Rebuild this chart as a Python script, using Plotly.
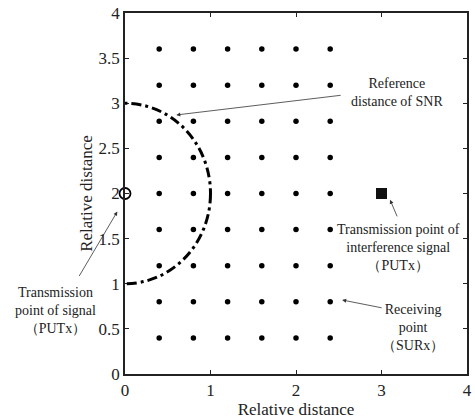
import plotly.graph_objects as go

# Data
grid_x = [0.4, 0.8, 1.2, 1.6, 2.0, 2.4]
grid_y = [0.4, 0.8, 1.2, 1.6, 2.0, 2.4, 2.8, 3.2, 3.6]
signal_tx = [0.0, 2.0]
interf_tx = [3.0, 2.0]
circle_center = [0.0, 2.0]
circle_radius = 1.0
x_ticks = [0, 1, 2, 3, 4]
y_ticks = [0, 0.5, 1, 1.5, 2, 2.5, 3, 3.5, 4]
y_tick_text = ["0", "0.5", "1", "1.5", "2", "2.5", "3", "3.5", "4"]
X_RANGE = [0, 4]
Y_RANGE = [0, 4]

rx = [x for y in grid_y for x in grid_x]
ry = [y for y in grid_y for x in grid_x]

FONT = "Liberation Serif"
fig = go.Figure()

fig.add_shape(type="circle", xref="x", yref="y",
              x0=circle_center[0] - circle_radius, x1=circle_center[0] + circle_radius,
              y0=circle_center[1] - circle_radius, y1=circle_center[1] + circle_radius,
              line=dict(color="black", width=3, dash="10px,4px,3px,4px"))

fig.add_trace(go.Scatter(x=rx, y=ry, mode="markers",
                         marker=dict(color="black", size=5.5), showlegend=False))
fig.add_trace(go.Scatter(x=[signal_tx[0]], y=[signal_tx[1]], mode="markers", cliponaxis=False,
                         marker=dict(symbol="circle-open", color="black", size=11,
                                     line=dict(width=1.8, color="black")), showlegend=False))
fig.add_trace(go.Scatter(x=[interf_tx[0]], y=[interf_tx[1]], mode="markers",
                         marker=dict(symbol="square", color="#111", size=11), showlegend=False))

tfont = dict(family=FONT, size=14, color="#222")

def px(x):
    return (x - X_RANGE[0]) / (X_RANGE[1] - X_RANGE[0])

def py(y):
    return (y - Y_RANGE[0]) / (Y_RANGE[1] - Y_RANGE[0])

def arrow(hx, hy, tx, ty):
    fig.add_annotation(x=hx, y=hy, ax=tx, ay=ty, xref="x", yref="y", axref="x", ayref="y",
                       text="", showarrow=True, arrowhead=2, arrowsize=1,
                       arrowwidth=0.8, arrowcolor="#333")

def label(x, y, txt):
    fig.add_annotation(x=px(x), y=py(y), xref="paper", yref="paper", text=txt, showarrow=False,
                       xanchor="center", yanchor="middle",
                       font=tfont, align="center")

arrow(0.60, 2.87, 2.54, 3.09)
label(3.18, 3.12, "Reference<br>distance of SNR")
arrow(3.10, 1.93, 3.19, 1.73)
label(3.20, 1.40, "Transmission point of<br>interference signal<br>（PUTx）")
arrow(2.54, 0.82, 3.02, 0.73)
label(3.37, 0.51, "Receiving<br>point<br>（SURx）")
# arrow to the signal transmitter, which lies outside the axis range (pixel offsets)
fig.add_annotation(x=px(-0.09), y=py(1.80), xref="paper", yref="paper", ax=-39, ay=66,
                   text="", showarrow=True, arrowhead=2, arrowsize=1,
                   arrowwidth=0.8, arrowcolor="#333")
label(-0.81, 0.70, "Transmission<br>point of signal<br>（PUTx）")

axis_common = dict(showline=True, linecolor="#222", linewidth=1.5, mirror="ticks",
                   ticks="inside", ticklen=4, tickcolor="#222", tickwidth=1,
                   showgrid=False, zeroline=False,
                   tickfont=dict(family=FONT, size=17, color="#222"))

fig.update_layout(
    width=475, height=420,
    margin=dict(l=125, r=3, t=13, b=46),
    plot_bgcolor="white", paper_bgcolor="white",
    xaxis=dict(range=X_RANGE, tickvals=x_ticks, ticktext=[str(t) for t in x_ticks],
               title=dict(text="Relative distance", font=dict(family=FONT, size=17, color="#222"),
                          standoff=0), **axis_common),
    yaxis=dict(range=Y_RANGE, tickvals=y_ticks, ticktext=y_tick_text,
               title=dict(text="Relative distance", font=dict(family=FONT, size=17, color="#222"),
                          standoff=2), **axis_common),
)

fig.write_html("out.html")
